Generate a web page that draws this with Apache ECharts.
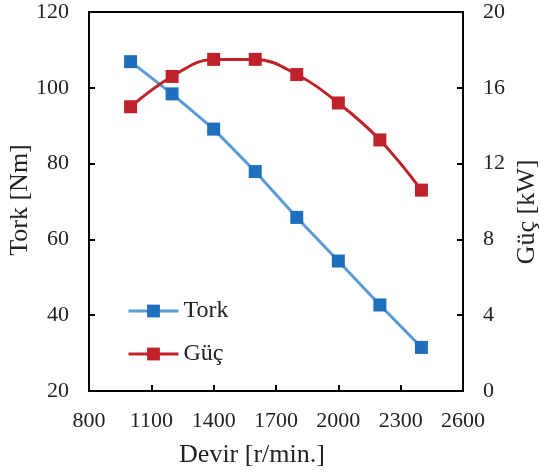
<!DOCTYPE html>
<html><head><meta charset="utf-8">
<script src="https://cdn.jsdelivr.net/npm/echarts@6/dist/echarts.min.js"></script>
<style>html,body{margin:0;padding:0;background:#fff}#c{width:540px;height:472px}</style>
</head><body><div id="c"></div>
<script>
const rpm = [1000, 1200, 1400, 1600, 1800, 2000, 2200, 2400];
const torque = [106.9, 98.4, 89.1, 77.9, 65.8, 54.3, 42.7, 31.5];
const power = [15.0, 16.6, 17.5, 17.5, 16.7, 15.2, 13.25, 10.6];
const xTicks = [800, 1100, 1400, 1700, 2000, 2300, 2600];
const leftTicks = [20, 40, 60, 80, 100, 120];
const rightTicks = [0, 4, 8, 12, 16, 20];

const FONT = 'Liberation Serif';
const chart = echarts.init(document.getElementById('c'), null, {renderer: 'canvas'});
const axisCommon = {
  axisLine: {show: true, lineStyle: {color: '#000', width: 2}},
  axisTick: {show: true, inside: true, length: 6, lineStyle: {color: '#000', width: 2}},
  splitLine: {show: false},
  axisLabel: {color: '#222', fontFamily: FONT, fontSize: 22, formatter: v => String(v)}
};
chart.setOption({
  animation: false,
  backgroundColor: '#fff',
  grid: {left: 89, right: 77, top: 12, bottom: 81, show: true, borderColor: '#000', borderWidth: 2, backgroundColor: 'transparent'},
  xAxis: Object.assign({}, axisCommon, {
    type: 'value', min: xTicks[0], max: xTicks[xTicks.length - 1], interval: 300,
    axisLabel: Object.assign({}, axisCommon.axisLabel, {margin: 19})
  }),
  yAxis: [
    Object.assign({}, axisCommon, {
      type: 'value', position: 'left', min: leftTicks[0], max: leftTicks[leftTicks.length - 1], interval: 20,
      axisLabel: Object.assign({}, axisCommon.axisLabel, {margin: 20})
    }),
    Object.assign({}, axisCommon, {
      type: 'value', position: 'right', min: rightTicks[0], max: rightTicks[rightTicks.length - 1], interval: 4,
      axisLabel: Object.assign({}, axisCommon.axisLabel, {margin: 20})
    })
  ],
  legend: {
    orient: 'vertical', left: 127, top: 299, padding: 0, itemWidth: 50, itemHeight: 16, itemGap: 19,
    lineStyle: {width: 3},
    textStyle: {fontFamily: FONT, fontSize: 24, color: '#222'},
    data: ['Tork', 'Güç']
  },
  graphic: [
    {type: 'text', x: 20, y: 200, rotation: Math.PI / 2,
     style: {text: 'Tork [Nm]', fontFamily: FONT, fontSize: 26, fill: '#222', align: 'center', verticalAlign: 'middle'}},
    {type: 'text', x: 527, y: 212, rotation: Math.PI / 2,
     style: {text: 'Güç [kW]', fontFamily: FONT, fontSize: 26, fill: '#222', align: 'center', verticalAlign: 'middle'}},
    {type: 'text', x: 252, y: 455,
     style: {text: 'Devir [r/min.]', fontFamily: FONT, fontSize: 26, fill: '#222', align: 'center', verticalAlign: 'middle'}}
  ],
  series: [
    {
      name: 'Tork', type: 'line', yAxisIndex: 0,
      data: rpm.map((x, i) => [x, torque[i]]),
      symbol: 'rect', symbolSize: 13,
      lineStyle: {color: '#5B9BD5', width: 3},
      itemStyle: {color: '#1F6FBF'}
    },
    {
      name: 'Güç', type: 'line', yAxisIndex: 1, smooth: 0.4,
      data: rpm.map((x, i) => [x, power[i]]),
      symbol: 'rect', symbolSize: 13,
      lineStyle: {color: '#C0222B', width: 3},
      itemStyle: {color: '#C0222B'}
    }
  ]
});
</script></body></html>
